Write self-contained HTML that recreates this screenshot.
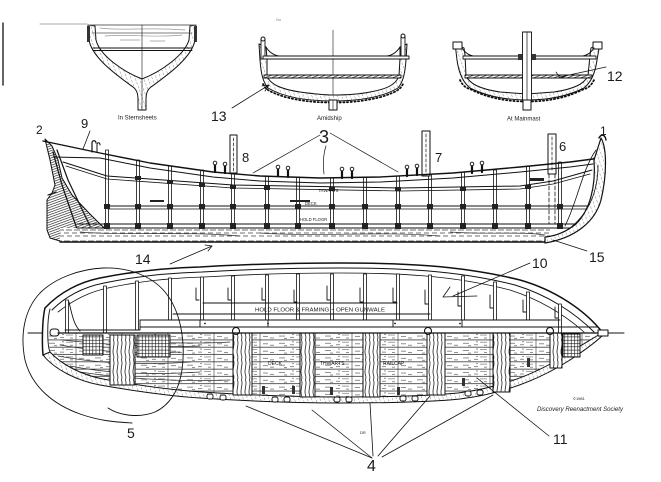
<!DOCTYPE html>
<html><head><meta charset="utf-8"><style>
html,body{margin:0;padding:0;background:#fff;}
svg{display:block}
text{font-family:"Liberation Sans",sans-serif;fill:#1a1a1a;}
.n{font-size:14px;}
.s{font-size:6px;}
</style></head><body>
<svg width="661" height="482" viewBox="0 0 661 482" xmlns="http://www.w3.org/2000/svg">
<defs>
<pattern id="hd" width="2.3" height="2.3" patternUnits="userSpaceOnUse" patternTransform="rotate(70)"><rect width="2.3" height="2.3" fill="#fff"/><line x1="0" y1="0" x2="0" y2="2.3" stroke="#111" stroke-width="1.2"/></pattern>
<pattern id="hl" width="4" height="4" patternUnits="userSpaceOnUse" patternTransform="rotate(-20)"><rect width="4" height="4" fill="#fff"/><line x1="0" y1="0" x2="0" y2="2.5" stroke="#555" stroke-width="0.7"/></pattern>
<pattern id="gr" width="3.3" height="3.3" patternUnits="userSpaceOnUse"><rect width="3.3" height="3.3" fill="#fff"/><path d="M0,0H3.3M0,0V3.3" stroke="#111" stroke-width="1.2"/></pattern>
<pattern id="grain" width="4" height="20" patternUnits="userSpaceOnUse"><rect width="4" height="20" fill="#fff"/><path d="M1.5,0 C3.5,5 -0.5,10 1.5,15 C2.5,17.5 1.5,19 1.5,20" stroke="#222" stroke-width="0.8" fill="none"/></pattern>
<pattern id="plank" width="46" height="7.3" patternUnits="userSpaceOnUse" x="0" y="333"><rect width="46" height="7.3" fill="#fff"/><line x1="0" y1="7" x2="46" y2="7" stroke="#222" stroke-width="0.8"/><line x1="30" y1="0" x2="30" y2="7" stroke="#333" stroke-width="0.6"/><path d="M3,3h6M14,4.5h4M20,2h7M33,3.5h5M40,5h4M8,5.5h3M24,5h3M16,1.5h2" stroke="#666" stroke-width="0.7"/></pattern>
<pattern id="keelp" width="8" height="14" patternUnits="userSpaceOnUse"><rect width="8" height="14" fill="#fff"/><path d="M0,3h6M2,6h6M0,9h5M3,12h5" stroke="#444" stroke-width="0.7"/></pattern>
<clipPath id="planclip"><path d="M47,333 L600,333 C592,339 580,346 564,356 C540,371 506,387 458,393 C428,396 390,397 340,397 C300,397 262,396 202,392 C172,390 142,386 103,379 C82,375 62,365 50,352 Z"/></clipPath>
</defs>
<g fill="none" stroke="#111" stroke-linecap="round" stroke-linejoin="round">

<!-- ===== TOP: SECTIONS ===== -->
<line x1="3" y1="23" x2="3" y2="85" stroke-width="1.5" stroke="#333"/>
<line x1="40" y1="24" x2="87" y2="24" stroke="#aaa" stroke-width="1"/>
<text x="276" y="21" style="font-size:4px;fill:#888" stroke="none">No</text>

<!-- Sternsheets -->
<path d="M88,25 L89,40 C92,58 118,76 133,87 C137,90 138,94 138,100 L138,110 L146,110 L146,100 C146,94 147,90 151,87 C166,76 192,58 195,40 L196,25 L190,26 L189,40 C184,56 160,72 142,79 C124,72 100,56 96,40 L95,26 Z" fill="url(#hl)" stroke-width="1"/>
<line x1="88" y1="25" x2="196" y2="25" stroke="#666" stroke-width="1"/>
<path d="M100,28 C120,31 150,27 185,30 M105,36 C130,34 160,38 182,35 M120,40 h20 M150,41 h15" stroke="#999" stroke-width="0.7"/>
<line x1="92" y1="33" x2="192" y2="33" stroke="#555" stroke-width="0.8"/>
<line x1="93" y1="48" x2="192" y2="48" stroke-width="0.9"/>
<line x1="93" y1="50.5" x2="192" y2="50.5" stroke-width="0.9"/>
<line x1="142" y1="25" x2="142" y2="110" stroke-width="0.6"/>
<rect x="87" y="26" width="3" height="16" fill="#333" stroke="none"/>
<rect x="194" y="26" width="3" height="16" fill="#333" stroke="none"/>
<text x="118" y="119.5" class="s" stroke="none">In Sternsheets</text>

<!-- Amidship -->
<line x1="333" y1="30" x2="333" y2="110" stroke-width="0.6"/>
<path d="M259,44 L260,60 C261,74 263,82 268,88 C285,98 310,101 333,101 C356,101 381,98 398,88 C403,82 405,74 406,60 L407,44 L400,47 L400,58 L399,76 C396,84 388,89 370,92 C360,94 345,95 333,95 C325,95 315,94 300,92 C280,89 270,84 267,76 L267,58 L266,47 Z" fill="url(#hl)" stroke-width="1"/>
<path d="M263,84 C266,90 270,92 285,97 C305,102 320,102.5 333,102.5 C346,102.5 361,102 381,97 C396,92 400,90 403,84" stroke-dasharray="1.2,2.5" stroke-width="1.8"/>
<rect x="261" y="39" width="4" height="20" fill="#fff" stroke-width="0.9"/>
<circle cx="263" cy="39" r="2" fill="#fff"/>
<rect x="401" y="37" width="4" height="20" fill="#fff" stroke-width="0.9"/>
<circle cx="403" cy="36" r="2" fill="#fff"/>
<rect x="263" y="56" width="146" height="3" fill="#fff" stroke-width="0.9"/>
<rect x="264" y="75" width="137" height="3" fill="url(#hd)" stroke-width="0.9"/>
<path d="M266,47 C269,52 273,55 279,56 M400,47 C397,52 393,55 387,56" stroke-width="1"/>
<rect x="329" y="100" width="8" height="10" fill="#fff" stroke-width="1"/>
<line x1="333" y1="100" x2="333" y2="110" stroke-width="0.6"/>
<text x="317" y="120" class="s" stroke="none">Amidship</text>
<text x="211" y="121" class="n" stroke="none">13</text>
<line x1="232" y1="108" x2="269" y2="85" stroke-width="0.8"/>
<path d="M262,86 L269,85 L265,91" stroke-width="0.8"/>

<!-- At Mainmast -->
<path d="M455,43 L457,60 C459,74 463,82 470,88 C488,97 508,100 527,100 C546,100 566,97 584,88 C591,82 595,74 597,60 L600,43 L591,48 L590,55 L588,76 C584,84 574,89 554,92 L527,94 L500,92 C480,89 470,84 466,76 L465,55 L464,48 Z" fill="url(#hl)" stroke-width="1"/>
<path d="M460,80 C463,86 466,88 471,89.5 C489,98.5 508,101.5 527,101.5 C546,101.5 565,98.5 583,89.5 C588,88 591,86 594,80" stroke-dasharray="1.2,2.5" stroke-width="1.8"/>
<rect x="453" y="42" width="9" height="7" fill="#fff" stroke-width="1"/>
<rect x="593" y="42" width="9" height="7" fill="#fff" stroke-width="1"/>
<path d="M462,48 C466,54 470,56 478,57 M594,48 C590,54 586,56 578,57" stroke-width="1"/>
<rect x="463" y="56" width="133" height="3" fill="#fff" stroke-width="0.9"/>
<rect x="465" y="75" width="127" height="3" fill="url(#hd)" stroke-width="0.9"/>
<rect x="522.5" y="32" width="9" height="68" fill="#fff" stroke-width="0.9"/>
<line x1="527" y1="32" x2="527" y2="110" stroke-width="0.7"/>
<rect x="518" y="54" width="4" height="6" fill="#333" stroke="none"/>
<rect x="532" y="54" width="4" height="6" fill="#333" stroke="none"/>
<rect x="523" y="100" width="8" height="10" fill="#fff" stroke-width="1"/>
<text x="507" y="120.5" class="s" stroke="none">At Mainmast</text>
<text x="607" y="81" class="n" stroke="none">12</text>
<line x1="606" y1="67" x2="560" y2="77" stroke-width="0.8"/>
<path d="M556,72 L560,78 L566,76" stroke-width="0.7"/>

<!-- ===== PROFILE ===== -->
<!-- stern wood mass -->
<path d="M45,139 L52,146 L58,160 L62,178 L72,195 L88,212 L100,224 L110,233 L106,241 L60,241 L50,238 L47,230 L47,200 L52,193 L55,185 L50,160 Z" fill="url(#hd)" stroke-width="1"/>
<path d="M53,152 L62,185 L78,232 M57,150 L68,180 L90,226 M48,195 L56,192" stroke-width="1.2"/>
<!-- keel strip -->
<rect x="60" y="228" width="490" height="14" fill="url(#keelp)" stroke="none"/>
<path d="M80,232 C130,236 180,231 240,236 M260,233 C320,237 380,231 440,236 M450,232 C490,235 520,231 545,235" stroke="#333" stroke-width="0.7"/>
<!-- frames -->
<g fill="#fff" stroke-width="0.8">
<rect x="105.5" y="150" width="3" height="78"/>
<rect x="136.5" y="160" width="3" height="68"/>
<rect x="168.5" y="166" width="3" height="62"/>
<rect x="200.5" y="170" width="3" height="58"/>
<rect x="231.5" y="174" width="3" height="54"/>
<rect x="265.5" y="176" width="3" height="52"/>
<rect x="296.5" y="177" width="3" height="51"/>
<rect x="330.5" y="178" width="3" height="50"/>
<rect x="363.5" y="177" width="3" height="51"/>
<rect x="396.5" y="176" width="3" height="52"/>
<rect x="428.5" y="174" width="3" height="54"/>
<rect x="461.5" y="172" width="3" height="56"/>
<rect x="493.5" y="170" width="3" height="58"/>
<rect x="526.5" y="166" width="3" height="62"/>
<rect x="558.5" y="162" width="3" height="66"/>
</g>
<!-- masts -->
<rect x="230" y="135" width="7" height="38" fill="#fff" stroke-width="1"/>
<line x1="233.5" y1="138" x2="233.5" y2="172" stroke-dasharray="3,2" stroke-width="0.7"/>
<rect x="422" y="131" width="8" height="45" fill="#fff" stroke-width="1"/>
<line x1="426" y1="134" x2="426" y2="175" stroke-dasharray="3,2" stroke-width="0.7"/>
<rect x="548" y="134" width="8" height="40" fill="#fff" stroke-width="1"/>
<line x1="552" y1="137" x2="552" y2="172" stroke-dasharray="3,2" stroke-width="0.7"/>
<path d="M549,174 V224 M555,174 V224" stroke-dasharray="4,2" stroke-width="0.8"/>
<!-- sheer & rails -->
<polyline points="43,141 100,153 150,163 213,172 260,176 320,178 380,177 453,173 520,167 570,162 593,159 601,153" stroke-width="1.4"/>
<polyline points="53,157 100,158 150,168 213,177 260,181 320,183 380,182 453,178 520,172 570,167 593,164" stroke-width="1"/>
<polyline points="63,162 107,176 233,185 400,188 520,186 553,181 592,170" stroke-width="1"/>
<polyline points="66,166 107,179 233,188 400,191 520,189 553,184 590,174" stroke-width="0.8"/>
<line x1="108" y1="206" x2="590" y2="206" stroke-width="1"/>
<line x1="108" y1="209" x2="588" y2="209" stroke-width="0.8"/>
<line x1="77" y1="224" x2="578" y2="224" stroke-width="1"/>
<line x1="77" y1="228" x2="572" y2="228" stroke-width="1.1"/>
<line x1="60" y1="242" x2="545" y2="242" stroke-width="1.4"/>
<!-- joint blocks -->
<g fill="#222" stroke="none">
<rect x="104" y="204" width="6" height="5"/><rect x="135" y="204" width="6" height="5"/><rect x="167" y="204" width="6" height="5"/><rect x="199" y="204" width="6" height="5"/><rect x="230" y="204" width="6" height="5"/><rect x="264" y="204" width="6" height="5"/><rect x="295" y="204" width="6" height="5"/><rect x="329" y="204" width="6" height="5"/><rect x="362" y="204" width="6" height="5"/><rect x="395" y="204" width="6" height="5"/><rect x="427" y="204" width="6" height="5"/><rect x="460" y="204" width="6" height="5"/><rect x="492" y="204" width="6" height="5"/><rect x="525" y="204" width="6" height="5"/><rect x="557" y="204" width="6" height="5"/>
<rect x="104" y="223" width="6" height="6"/><rect x="135" y="223" width="6" height="6"/><rect x="167" y="223" width="6" height="6"/><rect x="199" y="223" width="6" height="6"/><rect x="230" y="223" width="6" height="6"/><rect x="264" y="223" width="6" height="6"/><rect x="295" y="223" width="6" height="6"/><rect x="329" y="223" width="6" height="6"/><rect x="362" y="223" width="6" height="6"/><rect x="395" y="223" width="6" height="6"/><rect x="427" y="223" width="6" height="6"/><rect x="460" y="223" width="6" height="6"/><rect x="492" y="223" width="6" height="6"/><rect x="525" y="223" width="6" height="6"/><rect x="557" y="223" width="6" height="6"/>
<rect x="135" y="176" width="6" height="4"/><rect x="167" y="180" width="6" height="4"/><rect x="199" y="183" width="6" height="4"/><rect x="230" y="185" width="6" height="4"/><rect x="264" y="186" width="6" height="4"/><rect x="329" y="187" width="6" height="4"/><rect x="395" y="187" width="6" height="4"/><rect x="460" y="187" width="6" height="4"/><rect x="525" y="185" width="6" height="4"/>
<rect x="150" y="200" width="14" height="2"/><rect x="290" y="200" width="20" height="2"/><rect x="530" y="178" width="14" height="3"/>
</g>
<!-- thole pins -->
<g stroke-width="2.2">
<path d="M215,164V172 M225,165V173 M278,168V176 M288,169V177 M342,170V178 M352,170V178 M407,168V176 M417,167V175 M472,165V173 M482,164V172"/>
</g>
<g fill="#fff" stroke-width="0.9">
<circle cx="215" cy="163" r="1.8"/><circle cx="225" cy="164" r="1.8"/><circle cx="278" cy="167" r="1.8"/><circle cx="288" cy="168" r="1.8"/><circle cx="342" cy="169" r="1.8"/><circle cx="352" cy="169" r="1.8"/><circle cx="407" cy="167" r="1.8"/><circle cx="417" cy="166" r="1.8"/><circle cx="472" cy="164" r="1.8"/><circle cx="482" cy="163" r="1.8"/>
</g>
<path d="M92,152 L92,143 C92,140 96,140 96,143" stroke-width="1.2"/>
<path d="M97,152 L97,145 C97,142 100,142 100,145" stroke-width="1"/>
<!-- bow -->
<path d="M601,138 C607,148 607,175 601,200 C595,222 575,238 545,243 L545,237 C556,236 566,232 576,224 C590,210 596,186 594,160 Z" fill="url(#hl)" stroke-width="1.2"/>
<path d="M598,165 C598,190 590,212 570,228 M596,150 C582,170 578,200 565,226" stroke-width="0.8"/>
<path d="M599,138 C601,134 605,134 606,140" stroke-width="1.4"/>
<!-- profile labels -->
<text x="305" y="205" style="font-size:4.2px" stroke="none">DECK</text>
<text x="318" y="192" style="font-size:4.2px" stroke="none">THWARTS</text>
<text x="300" y="221" style="font-size:4.2px" stroke="none">HOLD  FLOOR</text>
<text x="36" y="134" style="font-size:12px" stroke="none">2</text>
<text x="81" y="128" style="font-size:13px" stroke="none">9</text>
<line x1="90" y1="131" x2="83" y2="149" stroke-width="0.8"/>
<text x="242" y="162" style="font-size:13px" stroke="none">8</text>
<text x="319" y="143" style="font-size:18px" stroke="none">3</text>
<line x1="320" y1="135" x2="253" y2="173" stroke-width="0.7"/>
<path d="M326,146 C323,155 323,165 324,174" stroke-width="0.7"/>
<line x1="330" y1="133" x2="398" y2="172" stroke-width="0.7"/>
<text x="435" y="162" style="font-size:13px" stroke="none">7</text>
<text x="559" y="151" style="font-size:13px" stroke="none">6</text>
<text x="600" y="135" style="font-size:12px" stroke="none">1</text>
<text x="135" y="264" class="n" stroke="none">14</text>
<line x1="170" y1="264" x2="212" y2="246" stroke-width="0.8"/>
<path d="M205,245 L212,246 L208,251" stroke-width="0.8"/>
<text x="589" y="262" class="n" stroke="none">15</text>
<line x1="587" y1="251" x2="553" y2="240" stroke-width="0.8"/>

<!-- ===== PLAN VIEW ===== -->
<!-- bottom planking area -->
<g clip-path="url(#planclip)">
<rect x="40" y="333" width="570" height="70" fill="url(#plank)" stroke="none"/>
<path d="M60,345 C90,350 130,355 180,352 M58,356 C90,362 130,366 190,362 M70,366 C100,372 140,376 200,372 M110,346 C150,340 190,345 230,342 M62,340 C100,344 150,348 200,346 M80,372 C120,378 170,382 230,380" stroke="#333" stroke-width="0.8"/>
</g>
<path d="M43,355 C55,370 78,381 100,385 C140,392 170,396 200,398 C260,402 300,403 340,403 C390,403 430,402 460,399 C510,393 545,376 570,360 C585,350 596,342 603,335 L600,334 C592,339 580,346 564,356 C540,371 506,387 458,393 C428,396 390,397 340,397 C300,397 262,396 202,392 C172,390 142,386 103,379 C82,375 62,365 50,352 Z" fill="url(#hl)" stroke-width="1"/>
<!-- grates -->
<rect x="83" y="335" width="20" height="20" fill="url(#gr)" stroke-width="1"/>
<rect x="137" y="335" width="33" height="22" fill="url(#gr)" stroke-width="1"/>
<rect x="563" y="334" width="17" height="23" fill="url(#gr)" stroke-width="1"/>
<!-- posts -->
<g fill="url(#grain)" stroke-width="1">
<rect x="110" y="335" width="25" height="50"/>
<rect x="233" y="333" width="19" height="62"/>
<rect x="300" y="333" width="15" height="64"/>
<rect x="363" y="333" width="17" height="64"/>
<rect x="427" y="333" width="18" height="62"/>
<rect x="493" y="333" width="17" height="59"/>
<rect x="550" y="333" width="12" height="35"/>
</g>
<g fill="#fff" stroke-width="1.1">
<circle cx="236" cy="331" r="3.5"/><circle cx="428" cy="331" r="3.5"/><circle cx="550" cy="331" r="3.5"/>
</g>
<!-- bottom rail slots & stubs -->
<g fill="#fff" stroke-width="0.9">
<rect x="207" y="394" width="6" height="5" rx="2"/><rect x="220" y="395" width="6" height="5" rx="2"/>
<rect x="272" y="397" width="6" height="5" rx="2"/><rect x="284" y="397" width="6" height="5" rx="2"/>
<rect x="334" y="397" width="6" height="5" rx="2"/><rect x="346" y="397" width="6" height="5" rx="2"/>
<rect x="400" y="396" width="6" height="5" rx="2"/><rect x="412" y="396" width="6" height="5" rx="2"/>
<rect x="465" y="391" width="6" height="5" rx="2"/><rect x="477" y="390" width="6" height="5" rx="2"/>
</g>
<g fill="#333" stroke="none">
<rect x="262" y="386" width="3" height="8"/><rect x="330" y="387" width="3" height="8"/><rect x="397" y="387" width="3" height="8"/><rect x="462" y="378" width="3" height="8"/><rect x="527" y="358" width="3" height="9"/><rect x="292" y="386" width="3" height="8"/>
</g>
<!-- outline top -->
<path d="M45,308 C60,292 80,282 100,278 C135,271 165,268 200,267 C250,264 300,263 340,263 C400,263 460,265 520,280 C555,290 585,310 603,333" stroke-width="1.5"/>
<path d="M52,310 C66,296 84,287 104,283 C137,276 167,273 202,272 C252,269 300,268 340,268 C398,268 456,270 515,285 C548,295 575,313 594,332" stroke-width="1"/>
<path d="M58,312 C72,301 88,292 108,288 C140,281 170,278 204,277 C254,274 300,273 340,273 C396,273 452,275 510,290 C541,300 566,316 584,332" stroke-width="0.8"/>
<!-- stern end -->
<path d="M45,308 C42,320 42,345 43,355" stroke-width="1.5"/>
<path d="M50,309 C47,320 47,345 50,352" stroke-width="0.9"/>
<rect x="50" y="329" width="9" height="7" rx="3" fill="#fff" stroke-width="1"/>
<line x1="28" y1="333" x2="42" y2="333" stroke-width="1"/>
<!-- bow end -->
<rect x="598" y="330" width="10" height="6" fill="#fff" stroke-width="1"/>
<line x1="608" y1="333" x2="624" y2="333" stroke-width="1"/>
<!-- plan frames -->
<g fill="#fff" stroke-width="0.8">
<rect x="65.5" y="300" width="3" height="33"/>
<rect x="103.5" y="286" width="3" height="47"/>
<rect x="135.5" y="281" width="3" height="49"/>
<rect x="168.5" y="278" width="3" height="42"/>
<rect x="200.5" y="277" width="3" height="43"/>
<rect x="231.5" y="276" width="3" height="44"/>
<rect x="265.5" y="275" width="3" height="45"/>
<rect x="296.5" y="274" width="3" height="46"/>
<rect x="330.5" y="274" width="3" height="46"/>
<rect x="363.5" y="274" width="3" height="46"/>
<rect x="396.5" y="274" width="3" height="46"/>
<rect x="428.5" y="275" width="3" height="45"/>
<rect x="461.5" y="276" width="3" height="44"/>
<rect x="493.5" y="282" width="3" height="38"/>
<rect x="526.5" y="292" width="3" height="28"/>
<rect x="558.5" y="304" width="3" height="29"/>
</g>
<path d="M196,288V300h3 M228,288V300h3 M262,288V300h3 M294,290V302h3 M327,286V300h3 M360,288V302h3 M393,288V302h3 M425,290V304h3 M458,292V306h3 M490,295V308h3 M523,300V312h3 M555,307V318h3" stroke-width="0.9"/>
<path d="M69,302 C72,315 74,325 80,331" stroke-width="0.9"/>
<!-- longitudinal lines -->
<line x1="203" y1="303" x2="397" y2="303" stroke-width="1"/>
<line x1="173" y1="314" x2="430" y2="314" stroke-width="1"/>
<line x1="140" y1="320" x2="560" y2="320" stroke-width="1"/>
<line x1="140" y1="327" x2="598" y2="327" stroke-width="0.9"/>
<line x1="65" y1="330" x2="140" y2="330" stroke-width="0.9"/>
<line x1="58" y1="333" x2="598" y2="333" stroke-width="1.2"/>
<path d="M200,320V327 M268,320V327 M393,320V327 M462,320V327 M140,320V330" stroke-width="0.9"/>
<g fill="#111" stroke="none"><circle cx="205" cy="323.5" r="0.9"/><circle cx="268" cy="323.5" r="0.9"/><circle cx="395" cy="323.5" r="0.9"/><circle cx="460" cy="323.5" r="0.9"/></g>
<text x="255" y="311.5" style="font-size:5.5px" textLength="130" lengthAdjust="spacingAndGlyphs" stroke="none">HOLD FLOOR &amp; FRAMING ~ OPEN GUNWALE</text>
<text x="268" y="365" style="font-size:5px" stroke="none">DECK</text>
<text x="320" y="365" style="font-size:5px" stroke="none">THWARTS</text>
<text x="383" y="365" style="font-size:5px" stroke="none">RAILCAP</text>
<!-- circle 5 -->
<path d="M132,423 C115,422 100,421 80,414 C55,405 32,388 25,360 C20,335 24,310 40,293 C55,278 80,269 103,268 C125,267 150,274 165,292 C180,310 186,340 182,370 C179,390 170,405 155,412 C140,418 120,416 108,408" stroke-width="0.9"/>
<text x="127" y="438" class="n" stroke="none">5</text>
<!-- 4 leaders -->
<line x1="372" y1="458" x2="246" y2="406" stroke-width="0.8"/>
<line x1="372" y1="458" x2="312" y2="410" stroke-width="0.8"/>
<line x1="373" y1="456" x2="370" y2="403" stroke-width="0.8"/>
<line x1="378" y1="456" x2="430" y2="396" stroke-width="0.8"/>
<line x1="382" y1="457" x2="493" y2="395" stroke-width="0.8"/>
<text x="367" y="471" style="font-size:16px" stroke="none">4</text>
<text x="360" y="434" style="font-size:4px" stroke="none">DR</text>
<!-- 10 -->
<text x="532" y="268" class="n" stroke="none">10</text>
<line x1="530" y1="263" x2="453" y2="296" stroke-width="0.8"/>
<path d="M450,287 L443,297 L477,296" stroke-width="0.8"/>
<!-- 11 -->
<text x="553" y="444" class="n" stroke="none">11</text>
<line x1="549" y1="436" x2="477" y2="378" stroke-width="0.8"/>
<text x="573" y="400" style="font-size:4px" stroke="none">©1981</text>
<text x="537" y="411" style="font-size:6px;font-style:italic" textLength="86" lengthAdjust="spacingAndGlyphs" stroke="none">Discovery Reenactment Society</text>
</g>
</svg>
</body></html>
